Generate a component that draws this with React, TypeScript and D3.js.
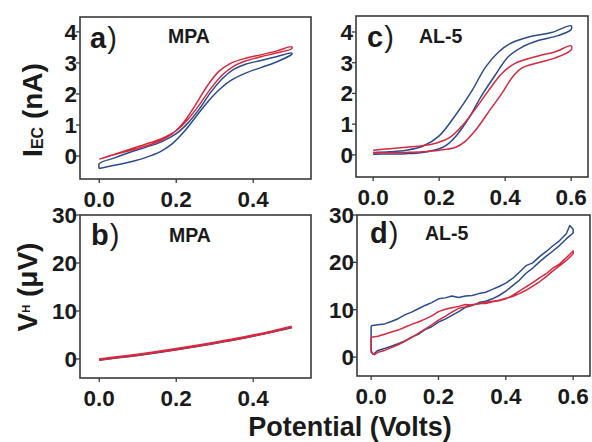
import * as d3 from "d3";

const W = 592;
const H = 442;
const FONT = '"Liberation Sans", Arial, Helvetica, sans-serif';
const BLUE = "#2c4b8c";
const RED = "#d6283e";
const INK = "#1a1a1a";
const FRAME = "#3a3a3a";

type Pt = [number, number];

const X_TICKS_MPA = [0, 0.2, 0.4];
const X_TICKS_AL5 = [0, 0.2, 0.4, 0.6];
const I_TICKS = [0, 1, 2, 3, 4];
const V_TICKS = [0, 10, 20, 30];

// a) MPA, I_EC (nA) vs potential
const MPA_I_BLUE: Pt[] = [
  [0.0, -0.4], [0.04, -0.3], [0.08, -0.19], [0.12, -0.05], [0.16, 0.15],
  [0.19, 0.4], [0.22, 0.78], [0.25, 1.25], [0.28, 1.72], [0.31, 2.12],
  [0.34, 2.42], [0.38, 2.67], [0.42, 2.85], [0.46, 3.03], [0.5, 3.28],
  [0.5, 3.32], [0.46, 3.2], [0.42, 3.08], [0.38, 2.96], [0.35, 2.8],
  [0.32, 2.5], [0.29, 2.06], [0.26, 1.52], [0.23, 1.06], [0.2, 0.72],
  [0.16, 0.45], [0.12, 0.28], [0.08, 0.12], [0.04, -0.06], [0.0, -0.25],
  [0.0, -0.4],
];
const MPA_I_RED: Pt[] = [
  [0.0, -0.1], [0.04, 0.05], [0.08, 0.18], [0.12, 0.32], [0.16, 0.5],
  [0.19, 0.72], [0.22, 1.1], [0.25, 1.65], [0.28, 2.25], [0.31, 2.72],
  [0.34, 2.98], [0.38, 3.15], [0.42, 3.26], [0.46, 3.38], [0.5, 3.52],
  [0.5, 3.46], [0.46, 3.32], [0.42, 3.2], [0.38, 3.06], [0.35, 2.9],
  [0.32, 2.62], [0.29, 2.18], [0.26, 1.65], [0.23, 1.18], [0.2, 0.82],
  [0.16, 0.55], [0.12, 0.38], [0.08, 0.22], [0.04, 0.06], [0.0, -0.1],
];

// c) AL-5, I_EC (nA)
const AL5_I_BLUE: Pt[] = [
  [0.0, 0.08], [0.05, 0.1], [0.1, 0.15], [0.15, 0.28], [0.2, 0.62],
  [0.25, 1.3], [0.3, 2.1], [0.34, 2.85], [0.38, 3.35], [0.42, 3.65],
  [0.48, 3.86], [0.54, 3.98], [0.6, 4.2],
  [0.6, 4.08], [0.56, 3.88], [0.5, 3.72], [0.45, 3.5], [0.41, 3.2],
  [0.37, 2.6], [0.33, 1.95], [0.29, 1.2], [0.25, 0.6], [0.22, 0.3],
  [0.2, 0.2], [0.15, 0.08], [0.1, 0.04], [0.05, 0.03], [0.0, 0.02],
];
const AL5_I_RED: Pt[] = [
  [0.0, 0.15], [0.05, 0.2], [0.1, 0.25], [0.15, 0.3], [0.19, 0.38],
  [0.23, 0.55], [0.27, 0.95], [0.31, 1.5], [0.35, 2.1], [0.39, 2.65],
  [0.43, 2.98], [0.5, 3.22], [0.55, 3.35], [0.6, 3.55],
  [0.6, 3.42], [0.55, 3.15], [0.5, 3.0], [0.45, 2.82], [0.42, 2.5],
  [0.39, 2.0], [0.35, 1.4], [0.31, 0.8], [0.28, 0.45], [0.25, 0.25],
  [0.2, 0.15], [0.15, 0.1], [0.1, 0.08], [0.05, 0.07], [0.0, 0.06],
];

// b) MPA, V_H (uV)
const MPA_V_BLUE: Pt[] = [
  [0.0, -0.2], [0.05, 0.3], [0.1, 0.8], [0.15, 1.35], [0.2, 1.95],
  [0.25, 2.6], [0.3, 3.3], [0.35, 4.0], [0.4, 4.8], [0.45, 5.65], [0.5, 6.55],
];
const MPA_V_RED: Pt[] = [
  [0.0, -0.1], [0.05, 0.4], [0.1, 0.9], [0.15, 1.45], [0.2, 2.05],
  [0.25, 2.7], [0.3, 3.4], [0.35, 4.1], [0.4, 4.9], [0.45, 5.75], [0.5, 6.7],
];

// d) AL-5, V_H (uV)
const AL5_V_BLUE: Pt[] = [
  [0.0, 6.6], [0.02, 6.8], [0.04, 7.0], [0.06, 7.5], [0.08, 8.1], [0.1, 8.9],
  [0.12, 9.5], [0.14, 10.2], [0.16, 10.9], [0.18, 11.5], [0.2, 12.3],
  [0.22, 12.5], [0.24, 12.9], [0.26, 12.6], [0.28, 12.9], [0.3, 13.0],
  [0.32, 13.4], [0.34, 13.7], [0.36, 14.3], [0.38, 14.9], [0.4, 15.6],
  [0.42, 16.6], [0.44, 17.9], [0.46, 19.3], [0.48, 19.9], [0.5, 21.2],
  [0.52, 22.3], [0.54, 23.5], [0.56, 24.6], [0.58, 26.1], [0.59, 27.8],
  [0.6, 27.0], [0.6, 26.2], [0.58, 25.0], [0.56, 23.6], [0.54, 22.4],
  [0.52, 21.3], [0.5, 20.1], [0.48, 18.8], [0.46, 17.7], [0.44, 16.2],
  [0.42, 15.1], [0.4, 13.9], [0.38, 13.0], [0.36, 12.3], [0.34, 11.8],
  [0.32, 11.5], [0.3, 10.9], [0.28, 10.5], [0.26, 9.6], [0.24, 8.8],
  [0.22, 8.0], [0.2, 7.4], [0.18, 6.4], [0.16, 5.8], [0.14, 4.8],
  [0.12, 4.2], [0.1, 3.4], [0.08, 2.8], [0.06, 2.3], [0.04, 1.8],
  [0.02, 1.4], [0.01, 0.8], [0.005, 0.6], [0.0, 1.4], [0.0, 6.6],
];
const AL5_V_RED: Pt[] = [
  [0.0, 4.2], [0.02, 4.4], [0.04, 4.8], [0.06, 5.3], [0.08, 5.7], [0.1, 6.3],
  [0.12, 6.9], [0.14, 7.4], [0.16, 8.0], [0.18, 8.7], [0.2, 9.6],
  [0.22, 10.1], [0.24, 10.4], [0.26, 10.7], [0.28, 11.1], [0.3, 11.0],
  [0.32, 11.3], [0.34, 11.3], [0.36, 11.7], [0.38, 11.9], [0.4, 12.3],
  [0.42, 13.0], [0.44, 13.9], [0.46, 14.8], [0.48, 15.7], [0.5, 16.7],
  [0.52, 17.6], [0.54, 18.8], [0.56, 19.7], [0.58, 21.0], [0.6, 22.4],
  [0.6, 21.8], [0.58, 20.4], [0.56, 19.3], [0.54, 18.2], [0.52, 17.0],
  [0.5, 15.9], [0.48, 15.0], [0.46, 14.1], [0.44, 13.4], [0.42, 12.8],
  [0.4, 12.4], [0.38, 12.0], [0.36, 11.8], [0.34, 11.6], [0.32, 11.2],
  [0.3, 11.1], [0.28, 10.6], [0.26, 10.3], [0.24, 9.5], [0.22, 8.6],
  [0.2, 7.8], [0.18, 6.8], [0.16, 5.9], [0.14, 5.0], [0.12, 4.1],
  [0.1, 3.3], [0.08, 2.6], [0.06, 2.0], [0.04, 1.4], [0.02, 1.0],
  [0.01, 0.5], [0.0, 1.0], [0.0, 4.2],
];

type Series = { pts: Pt[]; color: string; width: number };

type PanelDef = {
  tag: string;
  name: string;
  box: { x: number; y: number; w: number; h: number };
  xDomain: [number, number];
  yDomain: [number, number];
  xTicks: number[];
  yTicks: number[];
  smooth: boolean;
  series: Series[];
  tagPos: [number, number];
  namePos: [number, number];
};

const PANELS: PanelDef[] = [
  {
    tag: "a", name: "MPA",
    box: { x: 80, y: 17, w: 231, h: 162 },
    xDomain: [-0.05, 0.55], yDomain: [-0.74, 4.48],
    xTicks: X_TICKS_MPA, yTicks: I_TICKS, smooth: true,
    series: [
      { pts: MPA_I_BLUE, color: BLUE, width: 1.5 },
      { pts: MPA_I_RED, color: RED, width: 1.5 },
    ],
    tagPos: [10, 31], namePos: [88, 26],
  },
  {
    tag: "c", name: "AL-5",
    box: { x: 356, y: 16, w: 232, h: 161 },
    xDomain: [-0.052, 0.651], yDomain: [-0.72, 4.52],
    xTicks: X_TICKS_AL5, yTicks: I_TICKS, smooth: true,
    series: [
      { pts: AL5_I_BLUE, color: BLUE, width: 1.5 },
      { pts: AL5_I_RED, color: RED, width: 1.5 },
    ],
    tagPos: [11, 31], namePos: [63, 27],
  },
  {
    tag: "b", name: "MPA",
    box: { x: 80, y: 215, w: 231, h: 163 },
    xDomain: [-0.05, 0.55], yDomain: [-3.96, 30],
    xTicks: X_TICKS_MPA, yTicks: V_TICKS, smooth: true,
    series: [
      { pts: MPA_V_BLUE, color: BLUE, width: 2 },
      { pts: MPA_V_RED, color: RED, width: 2.6 },
    ],
    tagPos: [11, 30], namePos: [89, 27],
  },
  {
    tag: "d", name: "AL-5",
    box: { x: 357, y: 215, w: 233, h: 161 },
    xDomain: [-0.042, 0.65], yDomain: [-4, 30],
    xTicks: X_TICKS_AL5, yTicks: V_TICKS, smooth: false,
    series: [
      { pts: AL5_V_BLUE, color: BLUE, width: 1.5 },
      { pts: AL5_V_RED, color: RED, width: 1.5 },
    ],
    tagPos: [13, 28], namePos: [68, 25],
  },
];

function Panel({ p }: { p: PanelDef }) {
  const { x: bx, y: by, w, h } = p.box;
  const x = d3.scaleLinear().domain(p.xDomain).range([bx, bx + w]);
  const y = d3.scaleLinear().domain(p.yDomain).range([by + h, by]);
  const line = d3
    .line<Pt>()
    .x((d) => x(d[0]))
    .y((d) => y(d[1]))
    .curve(p.smooth ? d3.curveCatmullRom.alpha(0.5) : d3.curveLinear);
  const fx = d3.format(".1f");

  return (
    <g>
      {p.series.map((s, i) => (
        <path
          key={i}
          d={line(s.pts) ?? ""}
          fill="none"
          stroke={s.color}
          strokeWidth={s.width}
          strokeLinejoin="round"
        />
      ))}
      <rect x={bx} y={by} width={w} height={h} fill="none" stroke={FRAME} strokeWidth={1.6} />
      {p.xTicks.map((t) => (
        <g key={"x" + t}>
          <line x1={x(t)} x2={x(t)} y1={by + h} y2={by + h + 4} stroke={FRAME} strokeWidth={1.3} />
          <text
            x={x(t)}
            y={by + h + 27.5}
            textAnchor="middle"
            fontSize={22.5}
            fontWeight="bold"
            fill={INK}
          >
            {fx(t)}
          </text>
        </g>
      ))}
      {p.yTicks.map((t) => (
        <g key={"y" + t}>
          <line x1={bx - 4} x2={bx} y1={y(t)} y2={y(t)} stroke={FRAME} strokeWidth={1.3} />
          <text
            x={bx - 3}
            y={y(t) + 8}
            textAnchor="end"
            fontSize={22.5}
            fontWeight="bold"
            fill={INK}
          >
            {t}
          </text>
        </g>
      ))}
      <text x={bx + p.tagPos[0]} y={by + p.tagPos[1]} fontSize={29} fill={INK}>
        <tspan fontWeight="bold">{p.tag}</tspan>
        <tspan dx={1}>)</tspan>
      </text>
      <text
        x={bx + p.namePos[0]}
        y={by + p.namePos[1]}
        fontSize={19.5}
        fontWeight="bold"
        fill={INK}
      >
        {p.name}
      </text>
    </g>
  );
}

export default function App() {
  return (
    <svg
      width={W}
      height={H}
      viewBox={`0 0 ${W} ${H}`}
      style={{ position: "absolute", left: 0, top: 0, background: "#fff", fontFamily: FONT }}
    >
      <rect width={W} height={H} fill="#fff" />
      {PANELS.map((p) => (
        <Panel key={p.tag} p={p} />
      ))}
      <text transform="translate(42,110) rotate(-90)" textAnchor="middle" fontWeight="bold" fill={INK} fontSize={28}>
        <tspan>I</tspan>
        <tspan fontSize={16} dy={1}>EC</tspan>
        <tspan dy={-1}> (nA)</tspan>
      </text>
      <text transform="translate(37,287) rotate(-90)" textAnchor="middle" fontWeight="bold" fill={INK} fontSize={28}>
        <tspan>V</tspan>
        <tspan fontSize={11} dy={-7}>H</tspan>
        <tspan dy={7}> (μV)</tspan>
      </text>
      <text x={350} y={436} textAnchor="middle" fontSize={27} fontWeight="bold" fill={INK}>
        Potential (Volts)
      </text>
    </svg>
  );
}
